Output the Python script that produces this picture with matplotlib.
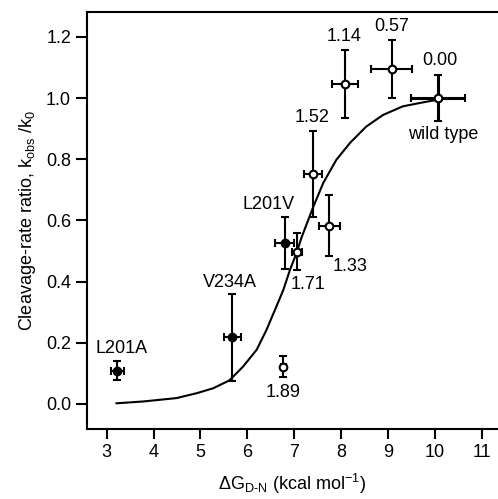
import matplotlib
matplotlib.use("Agg")
import matplotlib.pyplot as plt
import numpy as np

plt.rcParams['font.family'] = ['Liberation Sans', 'DejaVu Sans']
plt.rcParams['mathtext.fontset'] = 'custom'
plt.rcParams['mathtext.rm'] = 'Liberation Sans'
plt.rcParams['mathtext.it'] = 'Liberation Sans'

# measured points: dG (kcal/mol), k_obs/k_0 and errors
labels = ["L201A", "V234A", "1.89", "L201V", "1.71", "1.52", "1.33", "1.14", "0.57", "0.00"]
dG = [3.23, 5.68, 6.77, 6.80, 7.06, 7.40, 7.75, 8.08, 9.08, 10.07]
ratio = [0.109, 0.218, 0.122, 0.525, 0.498, 0.752, 0.583, 1.046, 1.095, 1.000]
ratio_err = [0.030, 0.142, 0.035, 0.085, 0.060, 0.140, 0.100, 0.112, 0.095, 0.074]
dG_err = [0.13, 0.18, 0.05, 0.20, 0.10, 0.19, 0.23, 0.28, 0.43, 0.57]
filled = [True, True, False, True, False, False, False, False, False, False]

# fitted curve
curve_x = [3.21, 3.78, 4.49, 4.92, 5.27, 5.62, 5.91, 6.20, 6.41, 6.62, 6.77, 6.91,
           7.05, 7.16, 7.41, 7.62, 7.90, 8.19, 8.54, 8.90, 9.32, 9.75, 10.04]
curve_y = [0.002, 0.008, 0.019, 0.035, 0.051, 0.077, 0.122, 0.177, 0.242, 0.318, 0.373, 0.438,
           0.493, 0.545, 0.645, 0.722, 0.798, 0.853, 0.907, 0.945, 0.973, 0.986, 0.994]

# label positions (data coords)
lab_x = [3.32, 5.63, 6.76, 6.46, 7.29, 7.38, 8.19, 8.06, 9.09, 10.11]
lab_y = [0.18, 0.396, 0.037, 0.651, 0.39, 0.938, 0.449, 1.202, 1.234, 1.122]

fig = plt.figure(figsize=(4.98, 4.99), dpi=100)
ax = fig.add_axes([0.1747, 0.1403, 0.8253, 0.836])

ax.plot(curve_x, curve_y, color='black', lw=1.5, zorder=2, solid_joinstyle='round')

for i in range(len(dG)):
    lw = 2.2 if labels[i] == "0.00" else 1.5
    ax.errorbar(dG[i], ratio[i], yerr=ratio_err[i], xerr=dG_err[i], fmt='o',
                color='black', ecolor='black', elinewidth=lw, capsize=3, capthick=lw,
                ms=5.5, mew=1.5, mfc='black' if filled[i] else 'white', mec='black',
                zorder=3)
    ax.text(lab_x[i], lab_y[i], labels[i], ha='center', va='center', fontsize=13)

ax.text(10.19, 0.880, "wild type", ha='center', va='center', fontsize=13)

ax.set_xlim(2.58, 11.35)
ax.set_ylim(-0.082, 1.282)
ax.set_xticks(np.arange(3, 12, 1))
ax.set_yticks([0.0, 0.2, 0.4, 0.6, 0.8, 1.0, 1.2])
ax.set_yticklabels(["0.0", "0.2", "0.4", "0.6", "0.8", "1.0", "1.2"])
ax.tick_params(axis='both', labelsize=13, width=1.5, direction='out')
ax.tick_params(axis='y', length=8)
ax.tick_params(axis='x', length=7)
for s in ['left', 'bottom', 'top']:
    ax.spines[s].set_linewidth(1.5)
ax.spines['right'].set_visible(False)

ax.set_xlabel(r"$\Delta$G$_{\mathrm{D\text{-}N}}$ (kcal mol$^{-1}$)", fontsize=13, labelpad=8)
ax.set_ylabel(r"Cleavage-rate ratio, k$_{\mathrm{obs}}$ /k$_{0}$", fontsize=13, labelpad=6)

fig.savefig("out.png", dpi=100)
